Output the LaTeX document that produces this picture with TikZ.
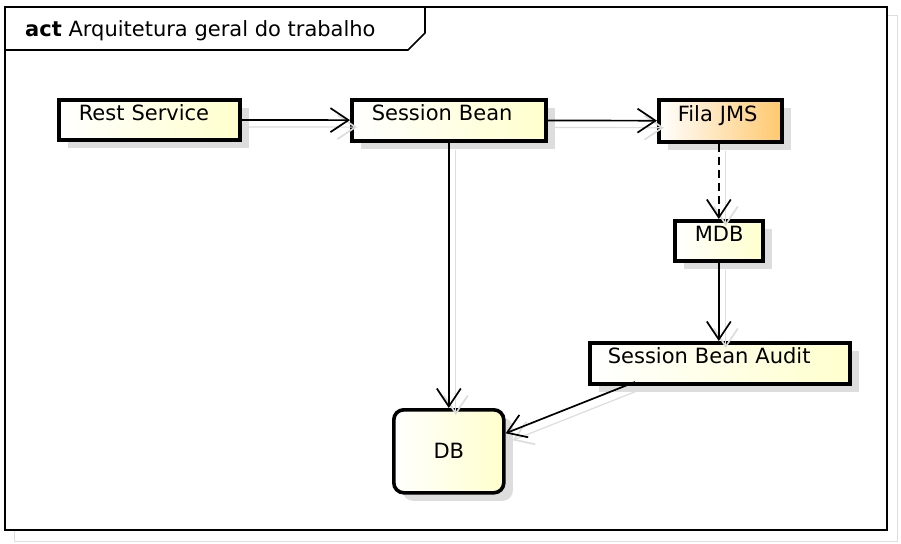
\documentclass[tikz,border=0pt]{standalone}
\usepackage{fontspec}
\setmainfont{DejaVu Sans}
\usetikzlibrary{arrows.meta,shadows}
\definecolor{actyellow}{RGB}{255,255,205}
\definecolor{actorange}{RGB}{255,200,110}
\definecolor{shadowgray}{RGB}{221,221,221}

\begin{document}
\begin{tikzpicture}[x=1pt, y=-1pt,
  basebox/.style={rectangle, draw=black, line width=3.6pt, anchor=north west, inner xsep=20pt, inner ysep=0pt,
    left color=white, right color=actyellow,
    drop shadow={shadow xshift=9pt, shadow yshift=-8pt, fill=shadowgray, opacity=1}},
  actbox/.style={basebox, align=left, text height=9pt, text depth=8pt},
  flow/.style={line width=1.7pt, -{Straight Barb[length=18pt, width=24pt, line width=1.7pt]},
    preaction={draw=shadowgray, line width=1.2pt, transform canvas={shift={(7,7)}}}},
  ]
\useasboundingbox (0,0) rectangle (901,543);
\fontsize{21}{25}\selectfont
% frame
\draw[shadowgray, line width=1pt] (14,16) rectangle (897,541);
\draw[fill=white, line width=1.6pt] (5,7) rectangle (887,530);
\draw[line width=1.6pt] (5,50) -- (408,50) -- (425,33) -- (425,7);
\node[anchor=base west, inner sep=0pt] (title) at (25,37) {\textbf{act} Arquitetura geral do trabalho};
% nodes
\node[actbox, minimum width=181pt, minimum height=40pt, text width=141pt] (rest) at (57,98) {Rest Service};
\node[actbox, minimum width=194pt, minimum height=41pt, text width=154pt] (sbean) at (350,98) {Session Bean};
\node[actbox, minimum width=123pt, minimum height=42pt, text width=85pt, inner xsep=19pt, right color=actorange] (fila) at (657,98) {Fila JMS};
\node[actbox, minimum width=88pt, minimum height=40pt, text width=48pt] (mdb) at (673,219) {MDB};
\node[actbox, minimum width=260pt, minimum height=41pt, text width=224pt, inner xsep=18pt] (sbaudit) at (588,341) {Session Bean Audit};
\node[basebox, minimum width=110pt, minimum height=83pt, rounded corners=10pt] (db) at (392,408) {DB};
\coordinate (auditout) at (635,382);
% edges
\draw[flow] (rest) -- (sbean);
\draw[flow] (sbean) -- (fila);
\draw[flow, dash pattern=on 8pt off 5pt] (fila.south -| mdb) -- (mdb.north);
\draw[flow] (mdb.south) -- (sbaudit.north -| mdb);
\draw[flow] (sbean.south) -- (db.north);
\draw[flow] (auditout) -- ([yshift=18pt]db.east);
\end{tikzpicture}
\end{document}
